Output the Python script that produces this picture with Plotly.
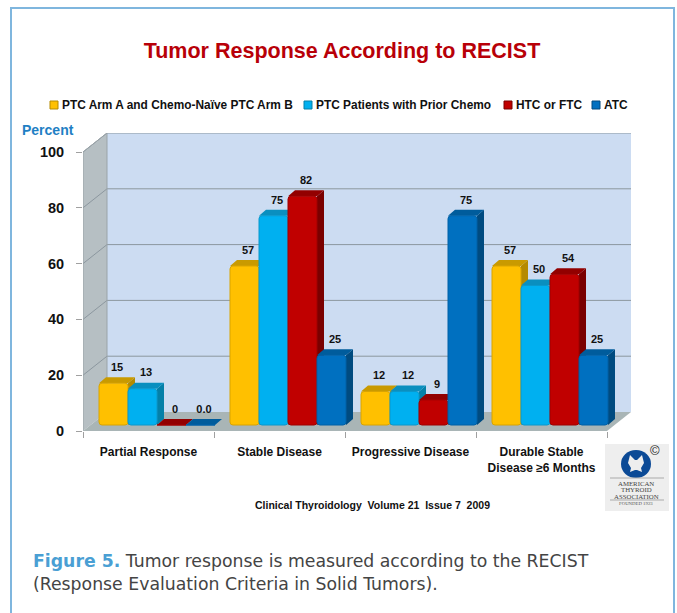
import plotly.graph_objects as go

categories = ["Partial Response", "Stable Disease", "Progressive Disease", "Durable Stable<br>Disease ≥6 Months"]
series_names = ["PTC Arm A and Chemo-Naïve PTC Arm B", "PTC Patients with Prior Chemo", "HTC or FTC", "ATC"]
arm_a = [15, 57, 12, 57]
prior_chemo = [13, 75, 12, 50]
htc_ftc = [0, 82, 9, 54]
atc = [0, 25, 75, 25]
arm_a_labels = ["15", "57", "12", "57"]
prior_chemo_labels = ["13", "75", "12", "50"]
htc_ftc_labels = ["0", "82", "9", "54"]
atc_labels = ["0.0", "25", "75", "25"]
y_ticks = [0, 20, 40, 60, 80, 100]
legend_swatch_x = [50, 304, 504, 592]

W, H = 677, 613
L, R, T, B = 83, 631, 133, 431
PX_X = 131.0   # pixels per category
PX_Y = 2.79    # pixels per percent
wall_dx, wall_dy = 24 / PX_X, 19 / PX_Y
bar_dx, bar_dy = 7 / PX_X, 6 / PX_Y
bar_w = 29 / PX_X
bar_start = 16 / PX_X

faces = [("#ffc000", "#c99a00", "#b58a00", "#d9a400"),
         ("#00b0f0", "#0a8fbf", "#0480a8", "#0a98cc"),
         ("#c00000", "#920000", "#7a0000", "#a00000"),
         ("#0070c0", "#005c9c", "#004b80", "#0060a6")]
values = [arm_a, prior_chemo, htc_ftc, atc]
labels = [arm_a_labels, prior_chemo_labels, htc_ftc_labels, atc_labels]

def px(x): return (x - L) / (R - L)
def py(y): return (B - y) / (B - T)

fig = go.Figure()
xmax = len(categories)

def poly(xs, ys, color, z, name):
    fig.add_trace(go.Scatter(x=xs, y=ys, mode="lines", fill="toself", fillcolor=color,
                             line=dict(width=0, color=color), hoverinfo="skip",
                             showlegend=False, zorder=z, name=name))

poly([0, wall_dx, wall_dx, 0, 0], [0, wall_dy, 100 + wall_dy, 100, 0], "#b6bfc3", 0, "side wall")
poly([wall_dx, xmax + wall_dx, xmax + wall_dx, wall_dx, wall_dx],
     [wall_dy, wall_dy, 100 + wall_dy, 100 + wall_dy, wall_dy], "#ccdcf2", 0, "back wall")
poly([0, xmax, xmax + wall_dx, wall_dx, 0], [0, 0, wall_dy, wall_dy, 0], "#a9b5b6", 0, "floor")

gx, gy = [], []
for v in y_ticks[1:]:
    gx += [0, wall_dx, xmax + wall_dx, None]
    gy += [v, v + wall_dy, v + wall_dy, None]
fig.add_trace(go.Scatter(x=gx, y=gy, mode="lines", line=dict(color="#8c979f", width=1),
                         hoverinfo="skip", showlegend=False, zorder=1))
fig.add_trace(go.Scatter(x=[0, wall_dx, wall_dx, None, 0, 0], y=[100, 100 + wall_dy, wall_dy, None, 0, 100],
                         mode="lines", line=dict(color="#9aa3a8", width=1), hoverinfo="skip",
                         showlegend=False, zorder=1))

for i, (name, vals, labs, (front, top, side, edge)) in enumerate(zip(series_names, values, labels, faces)):
    lefts = [c + bar_start + i * bar_w for c in range(len(categories))]
    sx, sy, tx, ty = [], [], [], []
    for x0, v in zip(lefts, vals):
        x1 = x0 + bar_w
        t = bar_dy + v
        sx += [x1, x1, x1 + bar_dx, x1 + bar_dx, x1, None]
        sy += [bar_dy, t, t + bar_dy, 2 * bar_dy, bar_dy, None]
        tx += [x0, x1, x1 + bar_dx, x0 + bar_dx, x0, None]
        ty += [t, t, t + bar_dy, t + bar_dy, t, None]
    z = 10 + 3 * i
    poly(sx, sy, side, z, name + " side")
    poly(tx, ty, top, z + 1, name + " top")
    fig.add_trace(go.Bar(x=[x + bar_w / 2 for x in lefts], y=vals, base=[bar_dy] * len(vals),
                         width=bar_w, name=name, showlegend=False,
                         marker=dict(color=front, line=dict(color=edge, width=1)), zorder=z + 2))
    fig.add_trace(go.Scatter(x=[x + bar_w / 2 + bar_dx / 2 for x in lefts],
                             y=[v + 2 * bar_dy + 9 / PX_Y for v in vals], mode="text", text=labs,
                             textposition="middle center",
                             textfont=dict(family="Liberation Sans", size=11, color="#111111", weight="bold"),
                             hoverinfo="skip", showlegend=False, zorder=40))

shapes = [
    dict(type="path", xref="paper", yref="paper", layer="above",
         path=f"M {px(11)},{py(613)} L {px(11)},{py(8)} L {px(674)},{py(8)} L {px(674)},{py(613)}",
         line=dict(color="#7fb6de", width=2)),
    dict(type="rect", xref="paper", yref="paper", x0=px(605), x1=px(669), y0=py(511), y1=py(444),
         fillcolor="#eeeeee", line=dict(width=0), layer="above"),
    dict(type="circle", xref="paper", yref="paper", x0=px(621), x1=px(651), y0=py(478), y1=py(450),
         fillcolor="#0b4a96", line=dict(width=0), layer="above"),
    dict(type="path", xref="paper", yref="paper", layer="above", fillcolor="#eeeeee", line=dict(width=0),
         path="M " + " L ".join(f"{px(a)},{py(b)}" for a, b in
                                [(630, 455), (635, 460), (637, 460), (642, 455), (644, 463), (641, 468),
                                 (642, 472), (637, 470), (635, 470), (630, 472), (631, 468), (628, 463)]) + " Z"),
    dict(type="line", xref="paper", yref="paper", x0=px(610), x1=px(664), y0=py(478), y1=py(478),
         line=dict(color="#aaaaaa", width=1), layer="above"),
    dict(type="line", xref="paper", yref="paper", x0=px(610), x1=px(664), y0=py(500), y1=py(500),
         line=dict(color="#aaaaaa", width=1), layer="above"),
]

def note(text, x, y, size, color="#111111", family="Liberation Sans", anchor="center"):
    return dict(text=text, x=px(x), y=py(y), xref="paper", yref="paper", showarrow=False,
                xanchor=anchor, yanchor="middle", align=anchor,
                font=dict(size=size, color=color, family=family))

annotations = [
    note("<b>Percent</b>", 48, 130, 14, "#1f7fc4"),
    note("<b>Clinical Thyroidology  Volume 21  Issue 7  2009</b>", 372, 505, 10.5),
    note("<span style='color:#4a9fd4'><b>Figure 5.</b></span> Tumor response is measured according to the RECIST",
         31, 561, 17.3, "#444444", "DejaVu Sans", "left"),
    note("(Response Evaluation Criteria in Solid Tumors).", 31, 584, 17.3, "#444444", "DejaVu Sans", "left"),
    note("©", 655, 450, 13, "#222222"),
    note("AMERICAN", 636, 483, 6.8, "#444444", "Liberation Serif"),
    note("THYROID", 636, 489.5, 6.8, "#444444", "Liberation Serif"),
    note("ASSOCIATION", 636, 496, 6.8, "#444444", "Liberation Serif"),
    note("FOUNDED 1923", 636, 503.5, 4.8, "#555555", "Liberation Serif"),
]

for name, sx0, (front, top, side, edge) in zip(series_names, legend_swatch_x, faces):
    shapes.append(dict(type="rect", xref="paper", yref="paper", x0=px(sx0), x1=px(sx0 + 8),
                       y0=py(109), y1=py(101), fillcolor=front, line=dict(color=side, width=1), layer="above"))
    annotations.append(note(f"<b>{name}</b>", sx0 + 10, 105, 11.9, anchor="left"))

fig.update_layout(
    width=W, height=H, margin=dict(l=L, r=W - R, t=T, b=H - B, pad=0),
    paper_bgcolor="white", plot_bgcolor="white", barmode="overlay", barcornerradius=3,
    font=dict(family="Liberation Sans", color="#111111"), showlegend=False,
    title=dict(text="<b>Tumor Response According to RECIST</b>", x=342 / W, xanchor="center",
               y=1 - 50 / H, yanchor="middle", font=dict(size=21.5, color="#b80008", family="Liberation Sans")),
    shapes=shapes, annotations=annotations,
    xaxis=dict(range=[0, xmax + wall_dx], tickmode="array", tickvals=[c + 0.5 for c in range(len(categories))],
               ticktext=[f"<b>{c}</b>" for c in categories], ticks="", showgrid=False, zeroline=False,
               showline=False, ticklabelstandoff=12, tickfont=dict(size=12, color="#111111"),
               minor=dict(tickmode="array", tickvals=list(range(len(categories) + 1)), ticks="outside",
                          ticklen=6, tickcolor="#a0a0a0", showgrid=False)),
    yaxis=dict(range=[0, (B - T) / PX_Y], tickmode="array", tickvals=y_ticks,
               ticktext=[f"<b>{v}</b>" for v in y_ticks], ticks="outside", ticklen=6, tickcolor="#a0a0a0",
               showgrid=False, zeroline=False, showline=False, ticklabelstandoff=9,
               tickfont=dict(size=14.5, color="#111111")),
)

fig.write_html("out.html", config=dict(displayModeBar=False), post_script="document.body.style.margin='0';")
